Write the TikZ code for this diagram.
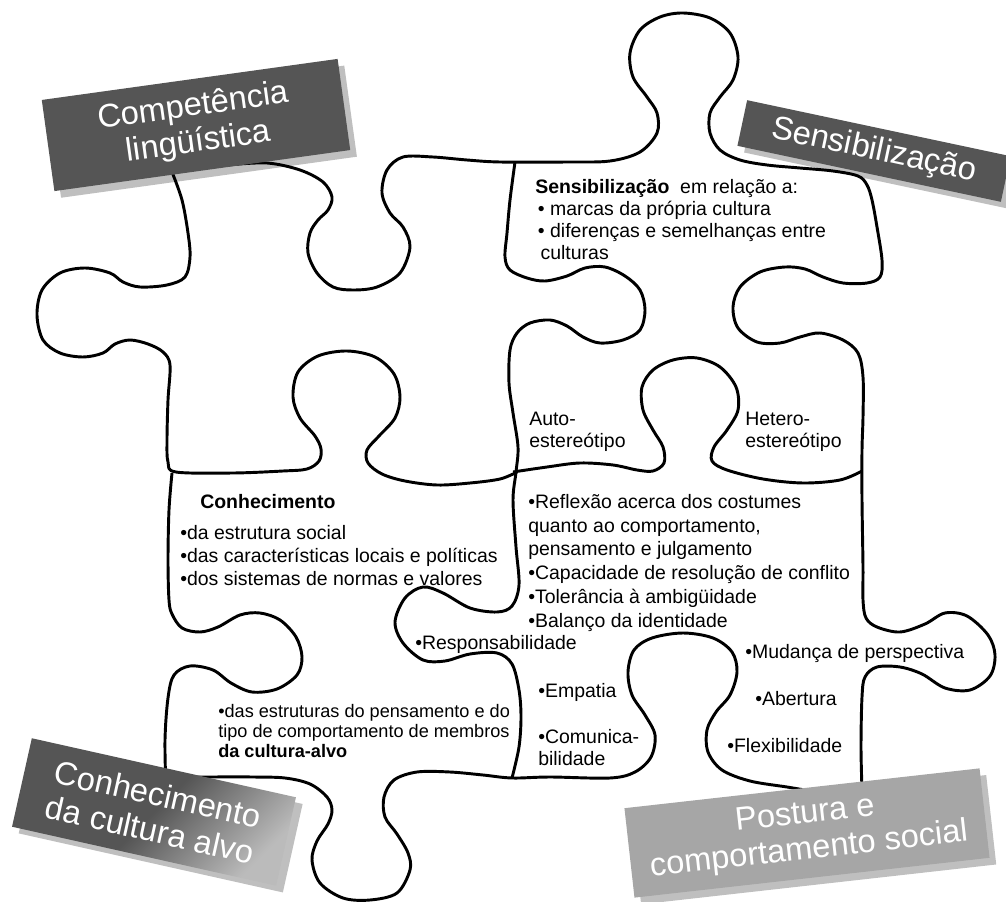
\documentclass[tikz,border=0pt]{standalone}
\usepackage{fontspec}
\setmainfont{Liberation Sans}
\usetikzlibrary{shadows}

\definecolor{labeldark}{RGB}{85,85,85}
\definecolor{labellight}{RGB}{166,166,166}

\tikzset{
  piece/.style={line width=2.2pt, line join=round, smooth, tension=0.55},
  txt/.style={anchor=north west, inner sep=0pt, align=left, font=\fontsize{14.6}{17.8}\selectfont},
  badge/.style={inner sep=0pt, align=center, text=white, font=\fontsize{24.5}{27}\selectfont,
    drop shadow={shadow xshift=5pt, shadow yshift=-5pt, fill=black, opacity=0.25}},
}

\begin{document}
\begin{tikzpicture}[x=0.75pt,y=0.75pt,yscale=-1,xscale=1]
\useasboundingbox (0,0) rectangle (1006,902);

%Shape: left piece outline [id:leftout]
\draw [piece] plot coordinates {(172,172) (182,200) (188,233) (190,257) (185,277) (167,285) (140,287) (123,282) (110,273) (85,268) (60,273) (42,290) (37,315) (43,340) (60,353) (83,357) (103,353) (115,344) (130,340) (148,344) (163,352) (170,365) (168,400) (167,440) (168,462) (176,472) (233,473) (283,471) (307,469) (319,461) (321,449) (315,436) (300,418) (293,397) (298,372) (318,356) (347,351) (375,357) (394,374) (400,397) (395,418) (379,436) (367,450) (368,463) (382,474) (405,481) (437,485) (470,483) (500,479) (517,472)};
%Shape: top edge and right edge [id:topedge]
\draw [piece] plot coordinates {(228,165) (267,163) (300,170) (323,182) (332,197) (328,210) (318,220) (310,233) (308,253) (317,273) (333,287) (353,290) (377,287) (400,273) (410,247) (403,227) (390,213) (382,193) (387,170) (403,157) (433,157) (467,160) (500,162) (567,162) (610,161) (640,152) (657,133) (657,113) (647,97) (633,77) (630,53) (640,30) (660,17) (683,13) (710,18) (730,33) (738,57) (733,80) (720,97) (710,113) (710,133) (720,150) (740,160) (767,165) (800,168) (833,171) (858,176) (867,185) (872,200) (877,227) (882,260) (880,277) (867,283) (843,283) (823,277) (805,269) (785,267) (760,272) (740,287) (733,307) (738,328) (757,342) (780,343) (800,337) (820,333) (843,340) (858,353) (863,377) (863,417) (862,450) (862,500) (863,567) (863,600) (866,618) (877,627) (900,632) (925,624) (945,613) (967,616) (988,635) (995,655) (990,676) (970,690) (945,688) (922,674) (900,667) (877,667) (865,677) (862,697) (861,747) (862,790)};
%Shape: middle vertical edge [id:midedge]
\draw [piece] plot coordinates {(515,162) (510,200) (507,233) (505,257) (510,270) (527,278) (545,281) (567,276) (585,268) (605,267) (625,276) (640,290) (645,310) (640,330) (623,340) (600,343) (583,337) (567,326) (550,320) (530,323) (517,333) (510,350) (509,383) (513,413) (518,447) (516,472) (513,500) (516,547) (519,585) (512,606) (497,612) (470,608) (443,593) (423,587) (405,598) (395,622) (403,643) (423,660) (445,661) (470,654) (497,653) (512,664) (519,690) (521,717) (519,747) (512,778)};
%Shape: edge under Auto / Hetero [id:autoedge]
\draw [piece] plot coordinates {(513,472) (547,467) (580,463) (613,465) (637,470) (653,471) (664,463) (663,447) (653,430) (643,410) (642,387) (653,370) (673,360) (697,358) (720,367) (736,387) (738,410) (727,430) (714,447) (712,461) (727,470) (763,479) (803,483) (840,480) (862,471)};
%Shape: left edge of lower pieces [id:conhedge]
\draw [piece] plot coordinates {(172,473) (169,510) (168,560) (169,600) (172,614) (182,628) (200,632) (218,627) (240,615) (260,613) (280,620) (296,637) (302,657) (297,675) (277,689) (252,692) (231,683) (213,670) (190,666) (174,675) (168,698) (165,740) (166,790)};
%Shape: bottom edge [id:bottomedge]
\draw [piece] plot coordinates {(150,778) (213,777) (253,777) (285,778) (310,784) (327,797) (332,810) (328,824) (317,841) (312,860) (320,883) (343,898) (370,900) (397,893) (410,870) (408,853) (397,834) (385,817) (384,797) (394,780) (417,772) (450,772) (483,775) (512,778) (550,777) (610,778) (635,772) (651,757) (655,735) (645,715) (632,695) (628,672) (634,650) (652,638) (683,633) (713,638) (732,652) (737,672) (730,695) (716,712) (707,730) (708,752) (722,770) (750,781) (787,787) (805,790)};

% Text Node
\node [txt, font=\fontsize{14.6}{16.5}\selectfont] (sens) at (535,179) {\textbf{Sensibilização}\ \ em relação a:\\\hspace{2pt}• marcas da própria cultura\\\hspace{2pt}• diferenças e semelhanças entre\\\hspace{4pt}culturas};
% Text Node
\node [txt] (conhtitle) at (200,494) {\textbf{Conhecimento}};
% Text Node
\node [txt, font=\fontsize{14.6}{17.25}\selectfont] (conhlist) at (180,525) {•da estrutura social\\•das características locais e políticas\\•dos sistemas de normas e valores};
% Text Node
\node [txt, font=\fontsize{13.6}{15}\selectfont] (estrut) at (218,704) {•das estruturas do pensamento e do\\tipo de comportamento de membros\\\textbf{da cultura-alvo}};
% Text Node
\node [txt, font=\fontsize{14.6}{16.5}\selectfont] (auto) at (529,412) {Auto-\\estereótipo};
% Text Node
\node [txt, font=\fontsize{14.6}{16.5}\selectfont] (hetero) at (745,412) {Hetero-\\estereótipo};
% Text Node
\node [txt, font=\fontsize{14.6}{17.85}\selectfont] (reflex) at (528,494) {•Reflexão acerca dos costumes\\quanto ao comportamento,\\pensamento e julgamento\\•Capacidade de resolução de conflito\\•Tolerância à ambigüidade\\•Balanço da identidade};
% Text Node
\node [txt] (respons) at (415,635) {•Responsabilidade};
% Text Node
\node [txt] (empatia) at (538,683) {•Empatia};
% Text Node
\node [txt, font=\fontsize{14.6}{16.5}\selectfont] (comunica) at (538,729) {•Comunica-\\bilidade};
% Text Node
\node [txt] (mudanca) at (745,644) {•Mudança de perspectiva};
% Text Node
\node [txt] (abertura) at (755,691) {•Abertura};
% Text Node
\node [txt] (flexib) at (727,738) {•Flexibilidade};

% Label boxes
\node [badge, fill=labeldark, rotate=7.9, minimum width=224pt, minimum height=69pt] (competencia) at (196,125) {Competência\\lingüística};
\node [badge, fill=labeldark, rotate=-12, minimum width=202pt, minimum height=35pt] (sensibil) at (874,151) {Sensibilização};
\node [badge, top color=labeldark, bottom color=labeldark!40!white, middle color=labeldark, shading angle=45, rotate=-12.6, minimum width=203pt, minimum height=68pt] (cultalvo) at (154,812) {Conhecimento\\da cultura alvo};
\node [badge, fill=labellight, rotate=6.4, minimum width=268pt, minimum height=67.5pt] (postura) at (807,833) {Postura e\\comportamento social};

\end{tikzpicture}
\end{document}
